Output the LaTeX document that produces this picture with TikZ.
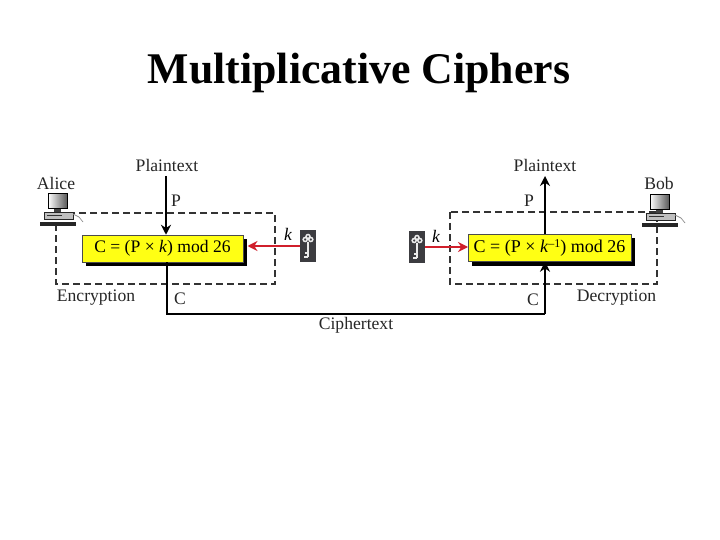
\documentclass[tikz,border=0pt]{standalone}
\usepackage{fontspec}
\setmainfont{Liberation Serif}
\usetikzlibrary{arrows.meta}
\definecolor{keygray}{HTML}{3C3C40}
\definecolor{redarrow}{HTML}{D01F2B}
\definecolor{boxyellow}{HTML}{FFFF14}
\tikzset{
  x=1pt,y=-1pt,
  lbl/.style={inner sep=0pt,font=\fontsize{17.6}{17.6}\selectfont,text=black!85},
  klbl/.style={inner sep=0pt,font=\itshape\fontsize{17.6}{17.6}\selectfont,text=black},
  formula/.style={draw=black!70,line width=0.5pt,fill=boxyellow,inner sep=0pt,minimum height=27pt},
  shadowbox/.style={fill=black,draw=none},
  dashbox/.style={draw=black!80,line width=1.2pt,dash pattern=on 7pt off 4pt},
  flow/.style={draw=black,line width=1.8pt},
  tip/.style={-{Stealth[length=10pt,width=10pt]}},
  redflow/.style={draw=redarrow,line width=1.8pt,-{Stealth[length=10pt,width=10pt]}},
  keybox/.style={fill=keygray,draw=none,minimum width=16pt,minimum height=32pt,inner sep=0pt},
  pics/computer/.style={code={
    \shade[left color=white,right color=black!65,draw=black,line width=1pt] (-8,-18) rectangle (11,-3);
    \fill[black!75] (-2,-3) rectangle (5,0);
    \fill[black!25,draw=black!85,line width=.8pt] (-12,0) rectangle (17,7);
    \draw[black!80,line width=1.2pt] (-9,3.5) -- (6,3.5);
    \fill[black!85] (-16,10) rectangle (20,14.5);
    \draw[black!45,line width=.7pt] (17,2) -- (23,5) -- (27,10);
  }},
  pics/keyicon/.style={code={
    \draw[black!8,line width=1.5pt] (-2.8,-6.5) circle (2);
    \draw[black!8,line width=1.5pt] (2.8,-6.5) circle (2);
    \draw[black!8,line width=1.5pt] (0,-9.5) circle (2);
    \draw[black!8,line width=2pt] (0,-4) -- (0,11) (0,10.5) -- (-4.5,10.5) (0,7) -- (-3.5,7);
  }},
}
\begin{document}
\begin{tikzpicture}
\useasboundingbox (0,0) rectangle (720,540);
\fill[white] (0,0) rectangle (720,540);
\node[inner sep=0pt,font=\bfseries\fontsize{43.8}{44}\selectfont] (title) at (359,73) {Multiplicative Ciphers};

% dashed frames
\draw[dashbox] (56,213) rectangle (275,284);
\draw[dashbox] (450,212) rectangle (657,284);

% connector end points
\coordinate (plainInL) at (166,176);
\coordinate (plainOutR) at (545,176);
\coordinate (cornerL) at (167,314);
\coordinate (cornerR) at (545,314);

% formula shadows + boxes
\fill[shadowbox] (85.5,239) rectangle (247,265.5);
\fill[shadowbox] (472,238) rectangle (635,265.5);
\node[formula,minimum width=161pt,font=\fontsize{17.6}{18}\selectfont] (enc) at (162.5,248.5) {C = (P × \textit{k}) mod 26\hspace{2pt}};
\node[formula,minimum width=162.5pt,font=\fontsize{18}{18}\selectfont] (dec) at (549.5,248) {C = (P × \textit{k}\raisebox{.55ex}{\fontsize{12}{12}\selectfont –1}) mod 26};

\draw[flow,tip] (plainInL) -- (plainInL |- enc.north);
\draw[flow] (cornerL |- enc.south) -- (cornerL) -- (cornerR);
\draw[flow,tip] (cornerR) -- (cornerR |- dec.south);
\draw[flow,tip] (plainOutR |- dec.north) -- (plainOutR);

% keys
\node[keybox] (keyL) at (308,246) {};
\node[keybox] (keyR) at (417,247) {};
\pic at (keyL) {keyicon};
\pic at (keyR) {keyicon};
\coordinate (redtipL) at (247.5,246);
\draw[redflow] (keyL.west) -- (redtipL);
\draw[redflow] (keyR.east) -- (keyR.east -| dec.west);

% computers
\pic at (56,212) {computer};
\pic at (658,213) {computer};

% labels
\node[lbl] (ptL) at (167,165) {Plaintext};
\node[lbl] (ptR) at (545,165) {Plaintext};
\node[lbl] (alice) at (56,183) {Alice};
\node[lbl] (bob) at (659,183) {Bob};
\node[lbl] (pL) at (176,201) {P};
\node[lbl] (pR) at (529,201) {P};
\node[klbl] (kL) at (288,234) {k};
\node[klbl] (kR) at (436,236) {k};
\node[lbl] (encl) at (96,298) {Encryption};
\node[lbl] (decl) at (616.5,298) {Decryption};
\node[lbl] (cL) at (180,299) {C};
\node[lbl] (cR) at (533,300) {C};
\node[lbl] (ct) at (356,325.5) {Ciphertext};
\end{tikzpicture}
\end{document}
